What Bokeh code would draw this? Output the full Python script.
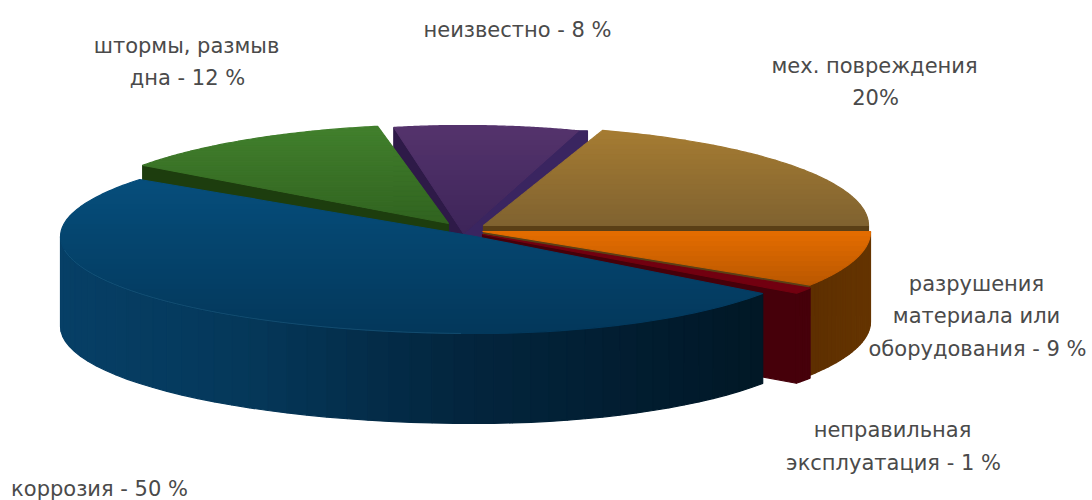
import numpy as np
from bokeh.plotting import figure
from bokeh.models import ColumnDataSource, Range1d
from bokeh.core.properties import value
from bokeh.embed import file_html
from bokeh.resources import INLINE

# Share of each cause, in percent, counter-clockwise from the right-hand edge
causes = ["мех. повреждения", "неизвестно", "штормы, размыв дна", "коррозия",
          "неправильная эксплуатация", "разрушения материала или оборудования"]
shares = [20, 8, 12, 50, 1, 9]

# Caption lines
caption_lines = ["штормы, размыв", "дна - 12 %", "неизвестно - 8 %", "мех. повреждения", "20%",
                 "разрушения", "материала или", "оборудования - 9 %",
                 "неправильная", "эксплуатация - 1 %", "коррозия - 50 %"]
caption_x = [186, 187, 517, 874, 875, 976, 976, 977, 892, 893, 99]
caption_y = [45, 77, 29, 65, 97, 283, 315, 348, 429, 462, 488]

# Pixel-space placement of each exploded slice: apex, radii to the left and right, vertical radius
apexes = [(483, 225), (463, 233), (448, 223), (475, 236), (482, 234), (482, 231)]
radii = [(385, 385, 100), (372, 372, 108), (378, 378, 99), (415, 355, 97), (388, 388, 100), (388, 388, 100)]
DEPTH = 90

edges = np.cumsum([0] + shares) / sum(shares) * 360.0
spans = list(zip(edges[:-1], edges[1:]))


def hex2rgb(c):
    return np.array([int(c[i:i + 2], 16) for i in (1, 3, 5)], dtype=float)


def mix(c0, c1, t):
    r = hex2rgb(c0) * (1 - t) + hex2rgb(c1) * t
    return "#%02x%02x%02x" % tuple(int(round(v)) for v in r)


def rim(i, a):
    """Point on the outer rim of slice i at angle a (degrees)."""
    (cx, cy), (rl, rr, ry) = apexes[i], radii[i]
    ca, sa = np.cos(np.radians(a)), np.sin(np.radians(a))
    return cx + (rl if ca < 0 else rr) * ca, cy - ry * sa


def clip_y(poly, y0, y1):
    """Clip a convex polygon to the horizontal band y0..y1."""
    def half(pts, keep, cross):
        out = []
        for j, p in enumerate(pts):
            q = pts[(j + 1) % len(pts)]
            if keep(p):
                out.append(p)
            if keep(p) != keep(q):
                t = (cross - p[1]) / (q[1] - p[1])
                out.append((p[0] + t * (q[0] - p[0]), cross))
        return out
    pts = half(poly, lambda p: p[1] >= y0, y0)
    return half(pts, lambda p: p[1] <= y1, y1) if pts else []


class Layer:
    def __init__(self):
        self.xs, self.ys, self.colors = [], [], []

    def add(self, poly, color):
        if len(poly) >= 3:
            self.xs.append([p[0] for p in poly])
            self.ys.append([p[1] for p in poly])
            self.colors.append(color)

    def top(self, i, c_top, c_bottom, y_top, y_bottom, step=5):
        a0, a1 = spans[i]
        poly = [apexes[i]] + [rim(i, a) for a in np.linspace(a0, a1, 90)]
        ymin, ymax = min(p[1] for p in poly), max(p[1] for p in poly)
        for y in np.arange(ymin, ymax, step):
            t = float(np.clip((y - y_top) / (y_bottom - y_top), 0, 1))
            self.add(clip_y(poly, y, y + step), mix(c_top, c_bottom, t))

    def radial(self, i, a, color, shift=0.0):
        rx, ry = rim(i, a)
        ax, ay = apexes[i]
        self.add([(ax, ay), (rx, ry), (rx + shift, ry), (rx + shift, ry + DEPTH), (ax, ay + DEPTH)], color)

    def wall(self, i, a0, a1, stops_x, stops_c, count=60):
        angles = np.linspace(a0, a1, count + 1)
        for u, v in zip(angles[:-1], angles[1:]):
            p, q = rim(i, u), rim(i, v)
            xm = (p[0] + q[0]) / 2
            k = np.searchsorted(stops_x, xm)
            k = int(np.clip(k, 1, len(stops_x) - 1))
            t = float(np.clip((xm - stops_x[k - 1]) / (stops_x[k] - stops_x[k - 1]), 0, 1))
            self.add([p, q, (q[0], q[1] + DEPTH), (p[0], p[1] + DEPTH)], mix(stops_c[k - 1], stops_c[k], t))


BROWN, PURPLE, GREEN, BLUE, RED, ORANGE = range(6)
layer = Layer()

# Back slices first, each cut face under its own top
layer.radial(PURPLE, spans[PURPLE][1], "#2e1a48")
layer.radial(PURPLE, spans[PURPLE][0], "#3a2560", shift=9)
layer.top(PURPLE, "#54336c", "#3c2458", 125, 235)

layer.radial(GREEN, spans[GREEN][1], "#1d3d0e")
layer.top(GREEN, "#417f2c", "#30621f", 126, 225)

layer.radial(BROWN, spans[BROWN][0], "#5a3f16")
layer.top(BROWN, "#a67c32", "#7f6230", 128, 225)

layer.wall(ORANGE, spans[ORANGE][0], spans[ORANGE][1], [800, 880], ["#5c2e00", "#663500"], count=24)
layer.radial(RED, spans[RED][0], "#46000a")
layer.wall(RED, spans[RED][0], spans[RED][1], [790, 815], ["#46000a", "#46000a"], count=4)
layer.top(RED, "#720010", "#720010", 233, 290)
layer.top(ORANGE, "#e46c00", "#b85600", 230, 285)

# Front slice: a long wall that darkens to the right
layer.wall(BLUE, 180, spans[BLUE][1], [60, 244, 450, 700, 770],
           ["#063f66", "#05385a", "#03263f", "#011a2b", "#011825"], count=48)
layer.top(BLUE, "#064e7c", "#03375a", 175, 333)

p = figure(width=1092, height=500, output_backend="svg", toolbar_location=None,
           x_range=Range1d(0, 1092), y_range=Range1d(500, 0),
           min_border=0, outline_line_color=None, background_fill_color="white",
           border_fill_color="white")
p.axis.visible = False
p.grid.visible = False

p.patches("xs", "ys", fill_color="colors", line_color="colors", line_width=1.2,
          source=ColumnDataSource(dict(xs=layer.xs, ys=layer.ys, colors=layer.colors)))

# Thin highlight where the top of the front slice meets its wall
rim_pts = [rim(BLUE, a) for a in np.linspace(188, 268, 50)]
p.line([q[0] for q in rim_pts], [q[1] for q in rim_pts], line_color="#2a6a8c",
       line_width=1, line_alpha=0.4)

p.text(caption_x, caption_y, text=caption_lines, text_align="center", text_baseline="middle",
       text_font=value("DejaVu Sans"), text_font_size="21px", text_color="#4a4a4a")

open("out.html", "w").write(file_html(p, INLINE))
